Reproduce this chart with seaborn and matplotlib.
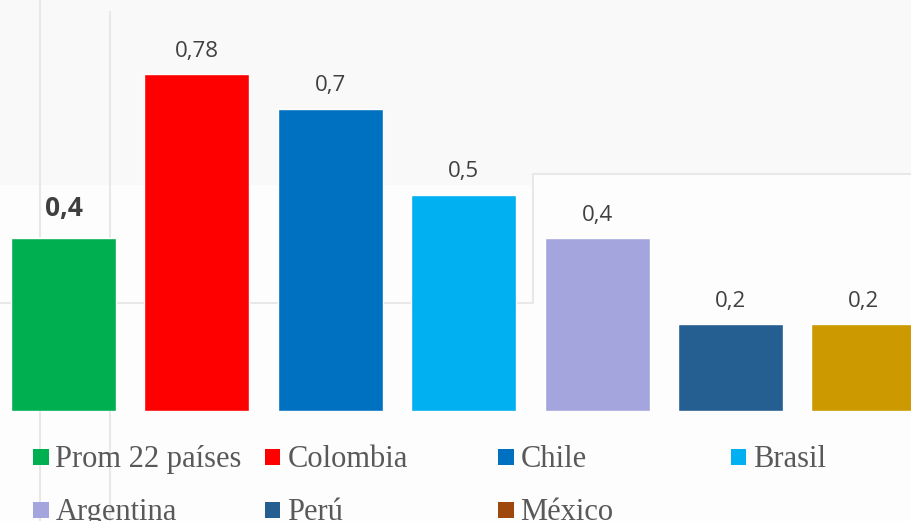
import matplotlib
matplotlib.use("Agg")
import matplotlib.pyplot as plt
from matplotlib.patches import Rectangle, Polygon
from matplotlib.lines import Line2D
import seaborn as sns
import pandas as pd

# Data
categories = ["Prom 22 países", "Colombia", "Chile", "Brasil", "Argentina", "Perú", "México"]
values = [0.4, 0.78, 0.7, 0.5, 0.4, 0.2, 0.2]
bar_colors = ["#00B050", "#FF0000", "#0070C0", "#00B0F0", "#A5A5DE", "#255E91", "#CC9900"]
legend_colors = ["#00B050", "#FF0000", "#0070C0", "#00B0F0", "#A5A5DE", "#255E91", "#9E480E"]

W, H = 912, 521
sns.set_theme(style="white")
plt.rcParams["font.family"] = ["Open Sans", "DejaVu Sans"]

fig = plt.figure(figsize=(W / 100, H / 100), dpi=100, facecolor="#FDFDFD")


def fx(x, y):
    """Pixel position (from top-left) to figure fraction."""
    return (x / W, 1 - y / H)


# Soft panel background
top_band = Polygon([fx(0, 0), fx(W, 0), fx(W, 174), fx(533, 174), fx(533, 185), fx(0, 185)],
                   closed=True, transform=fig.transFigure, facecolor="#F9F9F9",
                   edgecolor="none", zorder=0)
fig.patches.append(top_band)
guide = dict(color="#E8E8E8", lw=1.5, transform=fig.transFigure, zorder=0.5)
for seg in [((40, 0), (40, H)), ((110, 12), (110, H)), ((0, 303), (533, 303)),
            ((533, 303), (533, 174)), ((533, 174), (W, 174))]:
    (x0, y0), (x1, y1) = fx(*seg[0]), fx(*seg[1])
    fig.add_artist(Line2D([x0, x1], [y0, y1], **guide))

# Bars
df = pd.DataFrame({"pais": categories, "valor": values})
ax = fig.add_axes([0, 110.5 / H, 1, 410.5 / H])
ax.set_zorder(2)
ax.patch.set_alpha(0)
sns.barplot(data=df, x="pais", y="valor", hue="pais", palette=dict(zip(categories, bar_colors)),
            legend=False, width=0.787, saturation=1, ax=ax)
ax.set_xlim(-0.476, 6.361)
ax.set_ylim(0, 410.5 / 431)
ax.set_axis_off()

# Value labels
for i, v in enumerate(values):
    txt = f"{v:g}".replace(".", ",")
    if i == 0:
        ax.annotate(txt, (i, v), xytext=(0, 16), textcoords="offset points",
                    ha="center", va="baseline", fontsize=19, fontweight="bold",
                    color="#3F3F3F")
    else:
        ax.annotate(txt, (i, v), xytext=(0, 12.6), textcoords="offset points",
                    ha="center", va="baseline", fontsize=16, color="#404040")

# Legend
col_x = [33, 265, 498, 731]
row_base = [466.7, 519.7]
for k, (name, col) in enumerate(zip(categories, legend_colors)):
    r, c = divmod(k, 4)
    x0 = col_x[c]
    yb = row_base[r]
    (rx, ry) = fx(x0, yb - 2)
    fig.patches.append(Rectangle((rx, ry), 15.5 / W, 15.5 / H, transform=fig.transFigure,
                                 facecolor=col, edgecolor="none", zorder=3))
    tx, ty = fx(x0 + 22.5, yb)
    fig.text(tx, ty, name, ha="left", va="baseline", fontsize=22,
             family=["Liberation Serif", "DejaVu Serif"], color="#595959", zorder=3)

fig.savefig("out.png", dpi=100, facecolor=fig.get_facecolor())
